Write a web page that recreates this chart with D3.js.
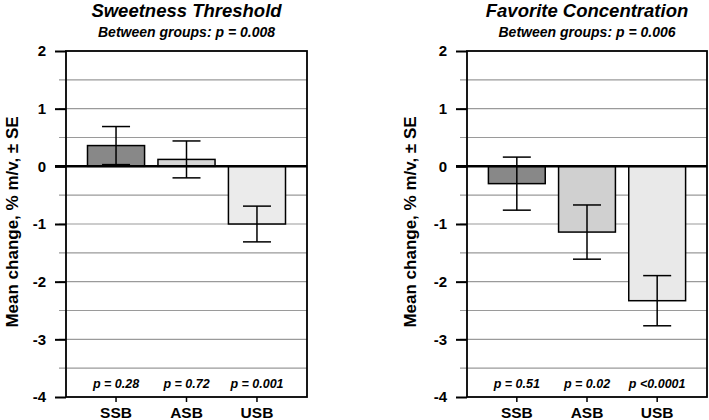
<!DOCTYPE html>
<html><head><meta charset="utf-8">
<script src="https://cdn.jsdelivr.net/npm/d3@7"></script>
<style>body{margin:0;background:#fff}svg{display:block}text{font-family:"Liberation Sans",Arial,sans-serif;font-weight:bold}</style>
</head><body><svg id="c" width="709" height="420"></svg>
<script>
const categories = ["SSB","ASB","USB"];
const barColors = ["#888888","#d6d6d6","#ebebeb"];
const barColorsRight = ["#888888","#d0d0d0","#e9e9e9"];
const yTicks = [-4,-3,-2,-1,0,1,2];
const gridValues = [-3.5,-3,-2.5,-2,-1.5,-1,-0.5,0.5,1,1.5];

const thresholdMean = [0.36, 0.12, -1.0];
const thresholdSE = [0.33, 0.32, 0.31];
const thresholdP = ["p = 0.28","p = 0.72","p = 0.001"];

const favoriteMean = [-0.30, -1.14, -2.33];
const favoriteSE = [0.46, 0.47, 0.435];
const favoriteP = ["p = 0.51","p = 0.02","p <0.0001"];

const panels = [
  {title:"Sweetness Threshold", sub:"Between groups: p = 0.008", mean:thresholdMean, se:thresholdSE, p:thresholdP, colors:barColors, x0:66, x1:307, labelX:18},
  {title:"Favorite Concentration", sub:"Between groups: p = 0.006", mean:favoriteMean, se:favoriteSE, p:favoriteP, colors:barColorsRight, x0:467, x1:707, labelX:416}
];

const svg = d3.select("#c");
const y = d3.scaleLinear().domain([-4,2]).range([397,51]);

panels.forEach(P => {
  const g = svg.append("g");
  const x = d3.scaleBand().domain(categories).range([P.x0,P.x1]).paddingInner(0.19).paddingOuter(0.305);
  g.selectAll("line.grid").data(gridValues).join("line")
    .attr("x1",P.x0-7).attr("x2",P.x1).attr("y1",d=>y(d)).attr("y2",d=>y(d))
    .attr("stroke","#9a9a9a").attr("stroke-width",1.2);
  const ax = d3.axisLeft(y).tickValues(yTicks).tickSize(11).tickPadding(9).tickFormat(d=>String(d));
  const axg = g.append("g").attr("transform",`translate(${P.x0},0)`).call(ax);
  axg.select(".domain").remove();
  axg.selectAll(".tick line").attr("stroke","#000").attr("stroke-width",2);
  axg.selectAll(".tick text").attr("font-size",15).attr("font-weight","bold").attr("fill","#000")
    .attr("font-family","Liberation Sans, Arial, sans-serif");
  g.selectAll("rect.bar").data(categories).join("rect")
    .attr("x",d=>x(d)).attr("width",x.bandwidth())
    .attr("y",(d,i)=>y(Math.max(0,P.mean[i])))
    .attr("height",(d,i)=>Math.abs(y(P.mean[i])-y(0)))
    .attr("fill",(d,i)=>P.colors[i]).attr("stroke","#000").attr("stroke-width",1.5);
  g.append("rect").attr("x",P.x0).attr("y",y(2)).attr("width",P.x1-P.x0).attr("height",y(-4)-y(2))
    .attr("fill","none").attr("stroke","#000").attr("stroke-width",1.8);
  g.append("line").attr("x1",P.x0-11).attr("x2",P.x1).attr("y1",y(0)).attr("y2",y(0))
    .attr("stroke","#000").attr("stroke-width",2.5);
  categories.forEach((c,i)=>{
    const cx = x(c)+x.bandwidth()/2;
    const hi = y(P.mean[i]+P.se[i]), lo = y(P.mean[i]-P.se[i]);
    g.append("line").attr("x1",cx).attr("x2",cx).attr("y1",hi).attr("y2",lo).attr("stroke","#000").attr("stroke-width",1.5);
    [hi,lo].forEach(v=>g.append("line").attr("x1",cx-14).attr("x2",cx+14).attr("y1",v).attr("y2",v).attr("stroke","#000").attr("stroke-width",1.5));
    g.append("line").attr("x1",cx).attr("x2",cx).attr("y1",y(-4)).attr("y2",y(-4)+5).attr("stroke","#000").attr("stroke-width",1.5);
    g.append("text").attr("x",cx).attr("y",418).attr("text-anchor","middle").attr("font-size",15.5).text(c);
    g.append("text").attr("x",cx).attr("y",388).attr("text-anchor","middle").attr("font-size",12.5).attr("font-style","italic").text(P.p[i]);
  });
  const cxm = (P.x0+P.x1)/2;
  g.append("text").attr("x",cxm).attr("y",17).attr("text-anchor","middle").attr("font-size",18.5).attr("font-style","italic").text(P.title);
  g.append("text").attr("x",cxm).attr("y",37).attr("text-anchor","middle").attr("font-size",14).attr("font-style","italic").text(P.sub);
  g.append("text").attr("transform",`translate(${P.labelX},222) rotate(-90)`).attr("text-anchor","middle")
    .attr("font-size",17).text("Mean change, % m/v, ± SE");
});
</script></body></html>
